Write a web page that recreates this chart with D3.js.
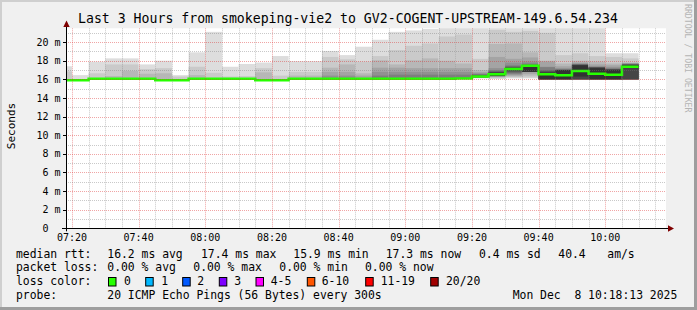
<!DOCTYPE html>
<html>
<head>
<meta charset="utf-8">
<script src="https://cdn.jsdelivr.net/npm/d3@7"></script>
<style>
body { margin: 0; background: #fff; }
svg text { font-family: "DejaVu Sans Mono", monospace; fill: #000; }
</style>
</head>
<body>
<div id="chart"></div>
<script>

// 5 minute steps (time at end of each step)
var stepTimes = ["07:20","07:25","07:30","07:35","07:40","07:45","07:50","07:55",
	"08:00","08:05","08:10","08:15","08:20","08:25","08:30","08:35","08:40","08:45","08:50","08:55",
	"09:00","09:05","09:10","09:15","09:20","09:25","09:30","09:35","09:40","09:45","09:50","09:55",
	"10:00","10:05","10:10"];

// median rtt, ms
var medianRtt = [15.9,15.9,16.05,16.05,16.05,16.05,15.9,15.9,16.05,16.05,16.05,16.05,15.9,15.9,
	16.05,16.05,16.05,16.05,16.05,16.05,16.05,16.05,16.05,16.05,16.1,16.3,16.55,17.1,17.45,
	16.55,16.45,16.9,16.6,16.5,17.35];

// upper pings (slowest first), ms; missing ones sit on the median
var upperPings = [
	[17.4,16.85],
	[16.45],
	[17.9,16.65],
	[18.25,17.6,16.35],
	[18.25,17.6,16.9],
	[17.6,17.1,16.6],
	[18.0,17.2,16.65],
	[16.45,16.3],
	[18.9,17.35,16.45],
	[21.1,16.7],
	[17.35,16.3],
	[17.65,16.35],
	[17.8,17.2,16.75],
	[18.5,16.4],
	[17.95,16.8,16.4],
	[17.95,16.8,16.4],
	[19.05,18.4,17.25,16.8,16.4],
	[18.6,18.15,17.6,16.8,16.4],
	[19.5,17.9,16.65,16.4],
	[20.25,18.5,18.05,17.25,16.8,16.4],
	[21.1,19.15,17.6,17.25,16.8,16.5],
	[21.25,19.6,18.05,17.2,16.8,16.5],
	[21.4,19.85,18.25,17.2,16.8,16.5],
	[22.0,20.6,18.0,17.2,16.8,16.5],
	[22.0,20.8,17.7,17.2,16.8,16.5],
	[22.5,18.2,17.0,16.8,16.65,16.55,16.5,16.45,16.4,16.35],
	[23.0,21.3,19.8,18.4,17.2,17.0,16.9,16.8,16.75,16.7],
	[23.5,21.1,19.85,18.2,17.8,17.5,17.4,17.3,17.25,17.2],
	[23.5,21.2,18.9,18.35,17.9,17.7,17.6,17.5,17.45,17.4],
	[23.5,21.0,18.0,17.9,17.35,17.3,17.0,16.9,16.8,16.7],
	[23.5,18.6,17.7,17.4,17.2,17.1,17.05,17.0,17.0,17.0],
	[23.5,18.8,18.0,17.8,17.7,17.6,17.6,17.55,17.55,17.5],
	[23.5,18.5,17.9,17.6,17.4,17.35,17.3,17.3,17.25,17.2],
	[18.8,18.4,17.7,17.5,17.3,17.2,17.1,17.1,17.05,17.0],
	[18.8,18.25,17.8,17.75,17.7,17.65,17.6,17.6,17.55,17.5]
];

// lower pings (fastest first), ms; missing ones repeat the last one (or the median)
var lowerPings = [
	[],[],[],[],[],[],[],[],[],[],[],[],[],[],[],[],[],[],[],[],[],[],[],[],[],
	[16.1,16.15,16.2,16.2,16.2,16.2,16.2,16.25,16.25,16.25],
	[16.05,16.1,16.2,16.25,16.3,16.35,16.4],
	[16.1,16.2,16.3,16.4,16.5,16.6,16.7,16.8,16.9,17.0],
	[16.1,16.2,16.4,16.6,16.8],
	[16.0],
	[16.0],
	[16.0,16.0,16.0,16.0,16.0,16.0,16.0,16.0,16.0,16.3],
	[16.0],
	[16.0],
	[16.0,16.0,16.0,16.0,16.0,16.0,16.0,16.0,16.0,17.2]
];

var yTicks = [0,2,4,6,8,10,12,14,16,18,20];
var xTickLabels = ["07:20","07:40","08:00","08:20","08:40","09:00","09:20","09:40","10:00"];

var titleText = "Last 3 Hours from smokeping-vie2 to GV2-COGENT-UPSTREAM-149.6.54.234";
var rttStats  = ["16.2 ms avg","17.4 ms max","15.9 ms min","17.3 ms now","0.4 ms sd","40.4","am/s"];
var lossStats = ["0.00 % avg","0.00 % max","0.00 % min","0.00 % now"];
var lossLabels = ["0","1","2","3","4-5","6-10","11-19","20/20"];
var lossColors = ["#26ff00","#00b8ff","#0059ff","#7e00ff","#ff00ff","#ff5500","#ff0000","#a10000"];
var probeText = "20 ICMP Echo Pings (56 Bytes) every 300s";
var dateText = "Mon Dec  8 10:18:13 2025";

var W = 697, H = 310;
var plot = { left: 66, right: 666, top: 28.3, bottom: 228.3 };

function t(hm) { var p = hm.split(":"); return new Date(2025, 11, 8, +p[0], +p[1], 0); }
var tEnd = new Date(2025, 11, 8, 10, 18, 13);
var tStart = new Date(tEnd.getTime() - 3 * 3600 * 1000);

var x = d3.scaleTime().domain([tStart, tEnd]).range([plot.left, plot.right]);
var y = d3.scaleLinear().domain([0, 21.48]).range([plot.bottom, plot.top]);

var svg = d3.select("#chart").append("svg")
	.attr("width", W).attr("height", H);

// background + frame
svg.append("rect").attr("width", W).attr("height", H).attr("fill", "#f0f0f0");
svg.append("rect").attr("x", 0).attr("y", 0).attr("width", W).attr("height", 2).attr("fill", "#cfcfcf");
svg.append("rect").attr("x", 0).attr("y", 0).attr("width", 2).attr("height", H).attr("fill", "#cfcfcf");
svg.append("rect").attr("x", 0).attr("y", H - 3).attr("width", W).attr("height", 3).attr("fill", "#9e9e9e");
svg.append("rect").attr("x", W - 3).attr("y", 0).attr("width", 3).attr("height", H).attr("fill", "#9e9e9e");

svg.append("rect")
	.attr("x", plot.left).attr("y", plot.top)
	.attr("width", plot.right - plot.left).attr("height", plot.bottom - plot.top)
	.attr("fill", "#fff");

svg.append("clipPath").attr("id", "clip").append("rect")
	.attr("x", plot.left).attr("y", plot.top)
	.attr("width", plot.right - plot.left).attr("height", plot.bottom - plot.top);

var g = svg.append("g").attr("clip-path", "url(#clip)");

// smoke: layer k spans ping k .. ping (21-k)
var shades = d3.range(10).map(function(k) {
	var c = Math.floor(190 / 10 * (10 - (k + 1))) + 50;
	return d3.rgb(c, c, c).formatHex();
});

var step = 5 * 60 * 1000;
stepTimes.forEach(function(s, i) {
	var te = t(s);
	var x0 = x(new Date(te.getTime() - step)), x1 = x(te);
	var lo = lowerPings[i], hi = upperPings[i];
	for (var k = 0; k < 10; k++) {
		var hiV = k < hi.length ? hi[k] : medianRtt[i];
		var loV = k < lo.length ? lo[k] : (lo.length ? lo[lo.length - 1] : medianRtt[i]);
		if (hiV <= loV) continue;
		g.append("rect")
			.attr("x", x0).attr("width", x1 - x0)
			.attr("y", y(hiV)).attr("height", y(loV) - y(hiV))
			.attr("fill", shades[k]);
	}
});

// grid
var minorTimes = d3.timeMinute.every(5).range(tStart, tEnd);
var grid = svg.append("g");
grid.selectAll("line.vmin").data(minorTimes).enter().append("line")
	.attr("x1", function(d){ return Math.round(x(d)) + 0.5; })
	.attr("x2", function(d){ return Math.round(x(d)) + 0.5; })
	.attr("y1", plot.top).attr("y2", plot.bottom)
	.attr("stroke", function(d){ return d.getMinutes() % 20 == 0 ? "rgba(220,40,40,0.42)" : "rgba(120,120,120,0.4)"; })
	.attr("stroke-dasharray", "1,1");
var hLines = d3.range(1, 22);
grid.selectAll("line.h").data(hLines).enter().append("line")
	.attr("x1", plot.left).attr("x2", plot.right)
	.attr("y1", function(d){ return Math.round(y(d)) + 0.5; })
	.attr("y2", function(d){ return Math.round(y(d)) + 0.5; })
	.attr("stroke", function(d){ return d % 2 == 0 ? "rgba(220,40,40,0.42)" : "rgba(120,120,120,0.4)"; })
	.attr("stroke-dasharray", "1,1");

// median line
var medPts = [];
stepTimes.forEach(function(s, i) {
	var te = t(s);
	medPts.push([x(new Date(te.getTime() - step)), y(medianRtt[i])]);
	medPts.push([x(te), y(medianRtt[i])]);
});
g.append("path")
	.attr("d", d3.line()(medPts))
	.attr("fill", "none")
	.attr("stroke", lossColors[0])
	.attr("stroke-width", 2.5);

// axes
var axisColor = "#000", arrowColor = "#7f0000";
svg.append("line").attr("x1", 62).attr("x2", 670).attr("y1", plot.bottom + 0.2).attr("y2", plot.bottom + 0.2)
	.attr("stroke", axisColor).attr("stroke-width", 1);
svg.append("line").attr("x1", plot.left + 0.5).attr("x2", plot.left + 0.5).attr("y1", plot.bottom + 3).attr("y2", 24)
	.attr("stroke", axisColor).attr("stroke-width", 1);
svg.append("path").attr("d", "M668,225.3 L674,228.5 L668,231.7 Z").attr("fill", arrowColor);
svg.append("path").attr("d", "M63.3,27 L66.5,20.5 L69.7,27 Z").attr("fill", arrowColor);

// y ticks + labels
svg.selectAll("line.yt").data(yTicks).enter().append("line")
	.attr("x1", 63).attr("x2", plot.left)
	.attr("y1", function(d){ return Math.round(y(d)) + 0.5; })
	.attr("y2", function(d){ return Math.round(y(d)) + 0.5; })
	.attr("stroke", "#000");
svg.selectAll("text.yl").data(yTicks).enter().append("text")
	.attr("x", function(d){ return d == 0 ? 48.5 : 60.5; })
	.attr("y", function(d){ return y(d) + 3.6; })
	.attr("text-anchor", "end")
	.style("font-size", "10px")
	.text(function(d){ return d == 0 ? "0" : d + " m"; });

// x labels
svg.selectAll("text.xl").data(xTickLabels).enter().append("text")
	.attr("x", function(d){ return x(t(d)); })
	.attr("y", 241)
	.attr("text-anchor", "middle")
	.style("font-size", "10px")
	.text(function(d){ return d; });

// title
svg.append("text").attr("x", 348).attr("y", 23)
	.attr("text-anchor", "middle").style("font-size", "13.2px").text(titleText);

// y axis title
svg.append("text").attr("transform", "translate(14.5,126) rotate(-90)")
	.attr("text-anchor", "middle").style("font-size", "11px").text("Seconds");

// watermark
svg.append("text").attr("transform", "translate(685,4) rotate(90)")
	.style("font-size", "8.2px").style("fill", "#b4b4b4").text("RRDTOOL / TOBI OETIKER");

// legend
var fs = "11.4px";
var rowY = [257.5, 271.2, 285, 298.8];
svg.append("text").attr("x", 16).attr("y", rowY[0]).style("font-size", fs).text("median rtt:");
var rttX = [107.3, 201, 293.3, 385.7, 479, 558.3, 607.3];
rttStats.forEach(function(s, i){
	svg.append("text").attr("x", rttX[i]).attr("y", rowY[0]).style("font-size", fs).text(s);
});
svg.append("text").attr("x", 16).attr("y", rowY[1]).style("font-size", fs).text("packet loss:");
var lossX = [107.3, 193.3, 279.3, 365];
lossStats.forEach(function(s, i){
	svg.append("text").attr("x", lossX[i]).attr("y", rowY[1]).style("font-size", fs).text(s);
});
svg.append("text").attr("x", 16).attr("y", rowY[2]).style("font-size", fs).text("loss color:");
var boxX = [108.5, 145.7, 182.7, 219.3, 256, 307.3, 365.7, 430.7];
var lblX = [124, 161.3, 197.3, 234.3, 270.7, 321.7, 380.7, 446];
lossLabels.forEach(function(s, i){
	svg.append("rect").attr("x", boxX[i]).attr("y", 277.5).attr("width", 7.5).attr("height", 8.5)
		.attr("fill", lossColors[i]).attr("stroke", "#000").attr("stroke-width", 1);
	svg.append("text").attr("x", lblX[i]).attr("y", rowY[2]).style("font-size", fs).text(s);
});
svg.append("text").attr("x", 16).attr("y", rowY[3]).style("font-size", fs).text("probe:");
svg.append("text").attr("x", 107.3).attr("y", rowY[3]).style("font-size", fs).text(probeText);
svg.append("text").attr("x", 512.7).attr("y", rowY[3]).style("font-size", fs)
	.style("white-space", "pre").text(dateText);

</script>
</body>
</html>
